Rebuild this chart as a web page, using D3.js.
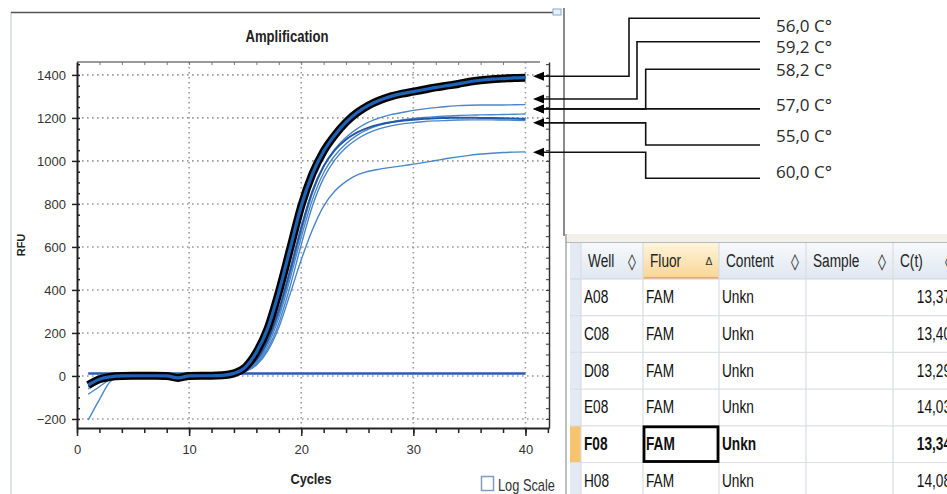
<!DOCTYPE html>
<html>
<head>
<meta charset="utf-8">
<script src="https://cdn.jsdelivr.net/npm/d3@7"></script>
<style>
  body { margin: 0; background: #fff; }
  svg { display: block; overflow: hidden; }
</style>
</head>
<body>
<svg class="chart" width="947" height="494"></svg>
<script>
// Amplification data (RFU per cycle)
const cycles = [1, 2, 3, 4, 5, 6, 7, 8, 9, 10, 11, 12, 13, 14, 15, 16, 17, 18, 19, 20,
  21, 22, 23, 24, 25, 26, 27, 28, 29, 30, 31, 32, 33, 34, 35, 36, 37, 38, 39, 40];

const rfu560 = [-42, -15, -4, 0, 1, 1, 1, 0, -9, 0, 1, 1, 3, 12, 40, 110, 220, 390, 590, 790,
  940, 1045, 1120, 1180, 1225, 1258, 1282, 1300, 1313, 1322, 1332, 1342, 1350, 1358, 1368, 1375, 1380, 1383, 1386, 1387];
const rfu592 = [-30, -12, -3, 0, 1, 1, 1, 0, 0, 0, 1, 1, 2, 8, 28, 68, 154, 288, 470, 670,
  850, 975, 1055, 1110, 1150, 1180, 1200, 1215, 1225, 1235, 1242, 1248, 1253, 1257, 1259, 1260, 1260, 1260, 1261, 1262];
const rfu582 = [-60, -30, -8, 0, 1, 1, 1, 0, 0, 0, 1, 1, 2, 7, 24, 60, 140, 270, 450, 645,
  820, 945, 1025, 1080, 1120, 1148, 1167, 1180, 1190, 1197, 1202, 1206, 1209, 1211, 1213, 1214, 1215, 1216, 1217, 1218];
const rfu570 = [-50, -22, -5, 0, 1, 1, 1, 0, 0, 0, 1, 1, 3, 9, 30, 75, 165, 305, 490, 690,
  860, 975, 1050, 1100, 1133, 1155, 1170, 1180, 1187, 1192, 1196, 1199, 1200, 1201, 1201, 1200, 1200, 1199, 1197, 1195];
const rfu550 = [-85, -50, -15, 0, 1, 1, 1, 0, 0, 0, 1, 1, 2, 6, 22, 55, 125, 245, 415, 610,
  790, 920, 1005, 1062, 1102, 1130, 1150, 1163, 1172, 1178, 1183, 1186, 1188, 1190, 1191, 1191, 1191, 1190, 1189, 1188];
const rfu600 = [-205, -110, -25, -3, 0, 1, 1, 0, 0, 0, 1, 1, 2, 6, 20, 50, 115, 225, 380, 540,
  680, 790, 860, 905, 935, 952, 962, 970, 977, 985, 993, 1002, 1011, 1019, 1026, 1032, 1036, 1039, 1041, 1042];
const threshold = 12;

// annotation labels and the RFU level each arrow points to
const tempLabels = ["56,0 C°", "59,2 C°", "58,2 C°", "57,0 C°", "55,0 C°", "60,0 C°"];
const arrowRFU = [1394, 1288, 1242, 1242, 1177, 1040];

const xTicks = [0, 10, 20, 30, 40];
const yTicks = [-200, 0, 200, 400, 600, 800, 1000, 1200, 1400];

// well table
const wells = ["A08", "C08", "D08", "E08", "F08", "H08"];
const fluors = ["FAM", "FAM", "FAM", "FAM", "FAM", "FAM"];
const contents = ["Unkn", "Unkn", "Unkn", "Unkn", "Unkn", "Unkn"];
const cts = ["13,37", "13,40", "13,29", "14,03", "13,34", "14,08"];
const headers = ["Well", "Fluor", "Content", "Sample", "C(t)"];
const headerMarks = ["◊", "Δ", "◊", "◊", "◊"];

const sans = "'Liberation Sans', Arial, sans-serif";

const svg = d3.select(".chart");

// condensed text: a normal sans squeezed horizontally
function ntext(parent, x, y, s, size, opts = {}) {
  return parent.append("text")
    .attr("transform", `translate(${x},${y}) scale(${opts.sx || 0.8},1)`)
    .attr("text-anchor", opts.anchor || "start")
    .attr("dominant-baseline", "middle")
    .attr("font-family", sans)
    .attr("font-size", size)
    .attr("font-weight", opts.weight || "normal")
    .attr("fill", opts.fill || "#222")
    .text(s);
}

// panel frame
svg.append("line").attr("x1", 11).attr("x2", 11).attr("y1", 12).attr("y2", 494)
  .attr("stroke", "#d4d8de").attr("stroke-width", 1.5);
svg.append("line").attr("x1", 11).attr("x2", 560).attr("y1", 12.5).attr("y2", 12.5)
  .attr("stroke", "#555").attr("stroke-width", 1.5);
svg.append("line").attr("x1", 564).attr("x2", 564).attr("y1", 8).attr("y2", 236)
  .attr("stroke", "#8a8a8a").attr("stroke-width", 2);
svg.append("rect").attr("x", 553).attr("y", 9).attr("width", 8).attr("height", 6)
  .attr("fill", "#e8f0fa").attr("stroke", "#86a8d4");

// scales
const xScale = d3.scaleLinear().domain([0, 42.1]).range([77, 549]);
const yScale = d3.scaleLinear().domain([-242, 1460]).range([428, 62]);

const plot = svg.append("g");

// dotted grid
plot.selectAll(".hgrid").data(yTicks).enter().append("line")
  .attr("x1", xScale(0)).attr("x2", xScale(42.1))
  .attr("y1", d => yScale(d)).attr("y2", d => yScale(d))
  .attr("stroke", "#9a9a9a").attr("stroke-width", 1.6).attr("stroke-dasharray", "1.6,3.4");
plot.selectAll(".vgrid").data(xTicks.slice(1)).enter().append("line")
  .attr("x1", d => xScale(d)).attr("x2", d => xScale(d))
  .attr("y1", yScale(1460)).attr("y2", yScale(-242))
  .attr("stroke", "#9a9a9a").attr("stroke-width", 1.6).attr("stroke-dasharray", "1.6,3.4");

// top and right frame
plot.append("line").attr("x1", 77).attr("x2", 540).attr("y1", 62).attr("y2", 62)
  .attr("stroke", "#777").attr("stroke-width", 1.5);
plot.append("g").attr("transform", "translate(0,62)")
  .call(d3.axisTop(xScale).tickValues(d3.range(0, 40, 2)).tickSize(-3).tickFormat(""))
  .call(g => g.select(".domain").remove())
  .selectAll("line").attr("stroke", "#777");
plot.append("g").attr("transform", "translate(549,0)")
  .call(d3.axisRight(yScale).tickValues(d3.range(-200, 1451, 50)).tickSize(-3).tickFormat("").tickSizeOuter(0))
  .call(g => g.select(".domain").attr("stroke", "#333").attr("stroke-width", 1.5))
  .selectAll("line").attr("stroke", "#333");

// left axis
const yAxis = plot.append("g").attr("transform", "translate(77,0)")
  .call(d3.axisLeft(yScale).tickValues(yTicks).tickSize(5).tickPadding(6).tickSizeOuter(0)
    .tickFormat(d3.format("d")));
yAxis.select(".domain").attr("stroke", "#222").attr("stroke-width", 2);
yAxis.selectAll("line").attr("stroke", "#222").attr("stroke-width", 1.5);
yAxis.selectAll("text").attr("font-family", sans).attr("font-size", 13).attr("fill", "#333");
plot.append("g").attr("transform", "translate(77,0)")
  .call(d3.axisRight(yScale).tickValues(d3.range(-200, 1451, 50)).tickSize(3).tickFormat("").tickSizeOuter(0))
  .call(g => g.select(".domain").remove())
  .selectAll("line").attr("stroke", "#222").attr("stroke-width", 1.5);

// bottom axis
const xAxis = plot.append("g").attr("transform", "translate(0,428)")
  .call(d3.axisBottom(xScale).tickValues(xTicks).tickSize(8).tickPadding(9).tickSizeOuter(0));
xAxis.select(".domain").attr("stroke", "#222").attr("stroke-width", 2);
xAxis.selectAll("line").attr("stroke", "#222").attr("stroke-width", 1.5);
xAxis.selectAll("text").attr("font-family", sans).attr("font-size", 13).attr("fill", "#333");
plot.append("g").attr("transform", "translate(0,428)")
  .call(d3.axisBottom(xScale).tickValues(d3.range(0, 43, 2)).tickSize(5).tickFormat("").tickSizeOuter(0))
  .call(g => g.select(".domain").remove())
  .selectAll("line").attr("stroke", "#222").attr("stroke-width", 1.5);

// curves
const line = d3.line()
  .x((d, i) => xScale(cycles[i]))
  .y(d => yScale(d))
  .curve(d3.curveMonotoneX);

const thin = [rfu592, rfu582, rfu550, rfu600];
plot.selectAll(".thin").data(thin).enter().append("path")
  .attr("d", line).attr("fill", "none")
  .attr("stroke", "#4a86c8").attr("stroke-width", 1.4);
plot.append("path").attr("d", line(rfu570)).attr("fill", "none")
  .attr("stroke", "#2557a7").attr("stroke-width", 2);

// threshold line
plot.append("line")
  .attr("x1", xScale(cycles[0])).attr("x2", xScale(cycles[cycles.length - 1]))
  .attr("y1", yScale(threshold)).attr("y2", yScale(threshold))
  .attr("stroke", "#2a5ead").attr("stroke-width", 2.5);

// selected well: black outline with blue core
plot.append("path").attr("d", line(rfu560)).attr("fill", "none")
  .attr("stroke", "#000").attr("stroke-width", 8).attr("stroke-linejoin", "round");
plot.append("path").attr("d", line(rfu560)).attr("fill", "none")
  .attr("stroke", "#1e63b5").attr("stroke-width", 3.2);

// chart texts
ntext(svg, 287, 38, "Amplification", 16, { anchor: "middle", weight: "bold", sx: 0.82 });
svg.append("text").attr("transform", "translate(22,245) rotate(-90)")
  .attr("text-anchor", "middle").attr("dominant-baseline", "middle")
  .attr("font-family", sans).attr("font-weight", "bold").attr("font-size", 11)
  .attr("fill", "#222").text("RFU");
ntext(svg, 311, 480, "Cycles", 15, { anchor: "middle", weight: "bold", sx: 0.85 });
svg.append("rect").attr("x", 481.5).attr("y", 476.5).attr("width", 12).attr("height", 14)
  .attr("fill", "#fff").attr("stroke", "#7e9cc4").attr("stroke-width", 1.5);
ntext(svg, 498, 487, "Log Scale", 16, { fill: "#333", sx: 0.8 });

// annotation arrows
const elbowX = [629, 637, 645.7, null, 645.7, 645.7];
const labelLineY = [18.3, 41.7, 69.3, null, 145, 178.3];
const labelY = [27, 48, 71, 106, 137, 173];
const tipX = 533;
const ann = svg.append("g");
tempLabels.forEach((t, i) => {
  const ay = yScale(arrowRFU[i]);
  let pts;
  if (elbowX[i] === null) {
    pts = [[760, ay], [tipX + 9, ay]];
  } else {
    pts = [[760, labelLineY[i]], [elbowX[i], labelLineY[i]], [elbowX[i], ay], [tipX + 9, ay]];
  }
  ann.append("path").attr("d", d3.line()(pts)).attr("fill", "none")
    .attr("stroke", "#111").attr("stroke-width", 1.6);
  ann.append("path")
    .attr("d", `M${tipX},${ay} L${tipX + 11},${ay - 4.5} L${tipX + 11},${ay + 4.5} Z`)
    .attr("fill", "#000");
  ann.append("text").attr("x", 776).attr("y", labelY[i]).attr("dominant-baseline", "middle")
    .attr("font-family", "'Open Sans', 'Noto Sans', sans-serif").attr("font-size", 17)
    .attr("fill", "#2a2a2a").text(t);
});

// table
const colX = [581, 643, 719, 806, 893, 960];
const rowTop = 279, rowH = 36.7, headTop = 243;
const tbl = svg.append("g");
tbl.append("rect").attr("x", 565).attr("y", 234).attr("width", 382).attr("height", 260).attr("fill", "#fff");
tbl.append("rect").attr("x", 565).attr("y", 234).attr("width", 382).attr("height", 9).attr("fill", "#f1f0ea");
tbl.append("line").attr("x1", 565).attr("x2", 947).attr("y1", 242.5).attr("y2", 242.5).attr("stroke", "#b9b9b9");
tbl.append("line").attr("x1", 566).attr("x2", 566).attr("y1", 234).attr("y2", 494).attr("stroke", "#a8a8a8").attr("stroke-width", 1.5);

const defs = svg.append("defs");
const g1 = defs.append("linearGradient").attr("id", "hdr").attr("x1", 0).attr("x2", 0).attr("y1", 0).attr("y2", 1);
g1.append("stop").attr("offset", "0%").attr("stop-color", "#f7f9fc");
g1.append("stop").attr("offset", "100%").attr("stop-color", "#dfe7f1");
const g2 = defs.append("linearGradient").attr("id", "hdrSel").attr("x1", 0).attr("x2", 0).attr("y1", 0).attr("y2", 1);
g2.append("stop").attr("offset", "0%").attr("stop-color", "#fff4dc");
g2.append("stop").attr("offset", "100%").attr("stop-color", "#f8d592");

// header row
tbl.append("rect").attr("x", 570).attr("y", headTop).attr("width", 377).attr("height", rowTop - headTop)
  .attr("fill", "url(#hdr)");
tbl.append("rect").attr("x", colX[1]).attr("y", headTop).attr("width", colX[2] - colX[1]).attr("height", rowTop - headTop)
  .attr("fill", "url(#hdrSel)");
tbl.append("line").attr("x1", colX[1]).attr("x2", colX[2]).attr("y1", rowTop - 1).attr("y2", rowTop - 1)
  .attr("stroke", "#f0ae45").attr("stroke-width", 2);

// selector column
tbl.append("rect").attr("x", 570).attr("y", headTop).attr("width", 11).attr("height", 494 - headTop)
  .attr("fill", "#e3eaf4");
tbl.append("rect").attr("x", 570).attr("y", rowTop + 4 * rowH).attr("width", 11).attr("height", rowH)
  .attr("fill", "#f6c36e");

// grid lines
d3.range(0, 7).forEach(k => {
  tbl.append("line").attr("x1", 570).attr("x2", 947)
    .attr("y1", rowTop + k * rowH).attr("y2", rowTop + k * rowH)
    .attr("stroke", k === 0 ? "#c9d3df" : "#dcdfe4").attr("stroke-width", 1.2);
});
colX.slice(0, 5).forEach(x => {
  tbl.append("line").attr("x1", x).attr("x2", x).attr("y1", headTop).attr("y2", 494)
    .attr("stroke", "#d9dde3").attr("stroke-width", 1.2);
});

// header texts
headers.forEach((h, i) => {
  ntext(tbl, colX[i] + 7, 262, h, 19, { fill: "#222", sx: 0.72 });
  tbl.append("text").attr("x", colX[i + 1] - (i === 1 ? 10 : 11)).attr("y", 262)
    .attr("dominant-baseline", "middle").attr("text-anchor", "middle")
    .attr("font-family", "'DejaVu Sans', sans-serif").attr("font-size", i === 1 ? 10 : 16)
    .attr("fill", "#333").text(headerMarks[i]);
});

// data rows
wells.forEach((w, k) => {
  const cy = rowTop + k * rowH + rowH / 2 + 1;
  const o = { weight: w === "F08" ? "bold" : "normal", fill: "#111", sx: 0.72 };
  ntext(tbl, colX[0] + 3, cy, w, 19, o);
  ntext(tbl, colX[1] + 3, cy, fluors[k], 19, o);
  ntext(tbl, colX[2] + 3, cy, contents[k], 19, o);
  ntext(tbl, 951, cy, cts[k], 19, Object.assign({ anchor: "end" }, o));
});
// selected cell outline
tbl.append("rect").attr("x", colX[1] + 1).attr("y", rowTop + 4 * rowH + 1)
  .attr("width", colX[2] - colX[1] - 2).attr("height", rowH - 2)
  .attr("fill", "none").attr("stroke", "#000").attr("stroke-width", 2.8);
</script>
</body>
</html>
